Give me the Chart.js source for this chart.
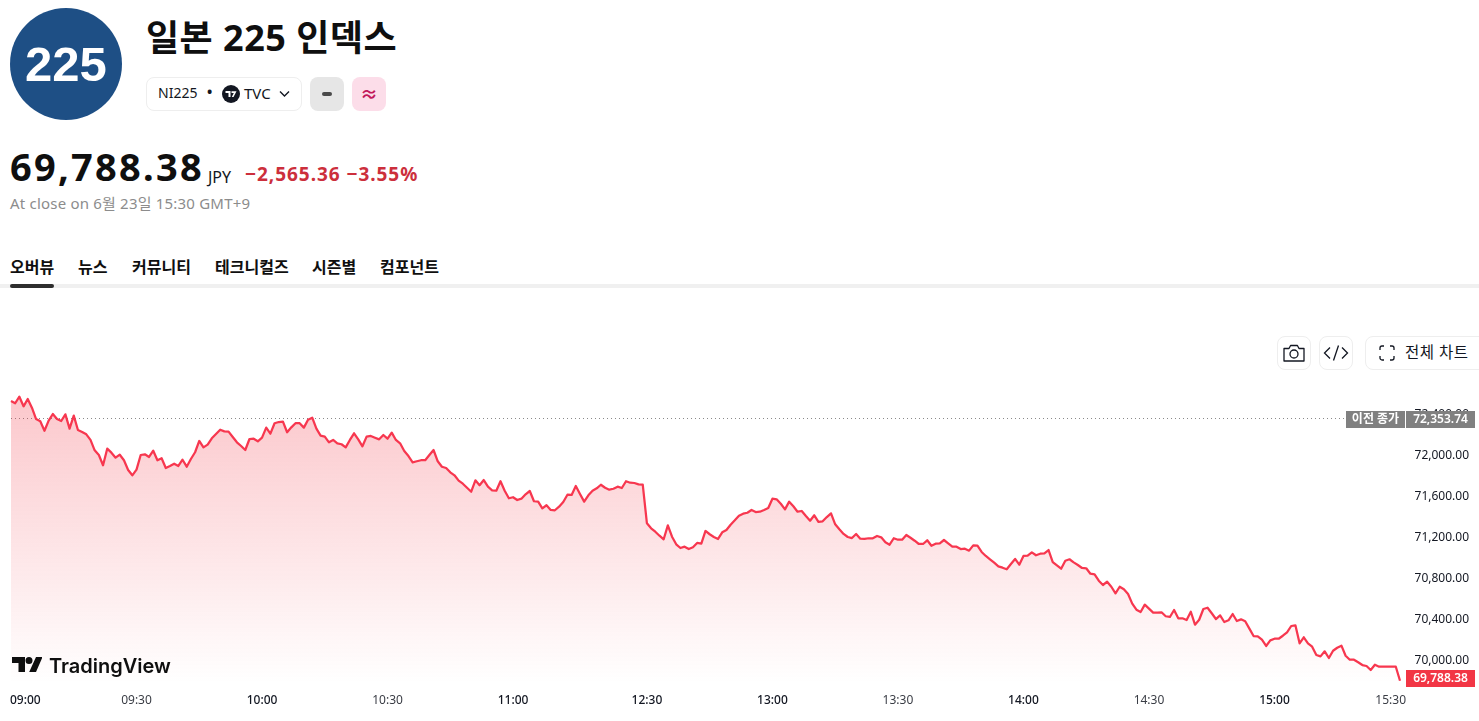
<!DOCTYPE html>
<html lang="ko">
<head>
<meta charset="utf-8">
<title>일본 225 인덱스</title>
<script src="https://cdn.jsdelivr.net/npm/chart.js@4"></script>
<style>
  html, body { margin: 0; padding: 0; background: #fff; }
  body { position: relative; width: 1479px; height: 721px; overflow: hidden; color: #131722;
    font-family: "Noto Sans", "Noto Sans CJK KR", sans-serif; }
  .abs { position: absolute; white-space: nowrap; line-height: 1; }
  .logo { left: 10px; top: 8px; width: 112px; height: 112px; border-radius: 50%; background: #1e4f85;
    color: #fff; font: bold 49px "Liberation Sans", sans-serif; display: flex; align-items: center; justify-content: center; }
  .title { left: 146px; top: 20px; font-size: 36px; font-weight: 700; letter-spacing: .5px; color: #0f0f0f; }
  .chip { left: 146px; top: 77px; width: 154px; height: 32px; border: 1px solid #eeeeee; border-radius: 8px; }
  .sq { top: 77px; width: 34px; height: 34px; border-radius: 8px; text-align: center; line-height: 34px; font-weight: 700; font-size: 18px; }
  .tool { top: 336px; height: 32px; border: 1px solid #eeeeee; border-radius: 8px; display: flex; align-items: center; justify-content: center; background: #fff; }
  .tab { top: 259px; font-size: 16px; font-weight: 700; color: #0f0f0f; }
  canvas { position: absolute; left: 0; top: 385px; }
</style>
</head>
<body>
<div class="abs logo">225</div>
<div class="abs title">일본 225 인덱스</div>
<div class="abs chip"></div>
<div class="abs" style="left:158px;top:86px;font-size:14px">NI225</div>
<div class="abs" style="left:207px;top:85px;font-size:14px;font-weight:700">•</div>
<svg class="abs" style="left:222px;top:85px" width="18" height="18" viewBox="0 0 18 18"><circle cx="9" cy="9" r="9" fill="#131722"/><path d="M3.5 6h5v6h-2V8h-3zM9.5 6.2h5L11.5 12H9.8l2-4h-2.3z" fill="#fff"/></svg>
<div class="abs" style="left:244px;top:86px;font-size:15px">TVC</div>
<svg class="abs" style="left:279px;top:90px" width="11" height="8" viewBox="0 0 11 8"><path d="M1 1.5l4.5 4.5L10 1.5" fill="none" stroke="#131722" stroke-width="1.4"/></svg>
<div class="abs sq" style="left:310px;background:#e6e6e6;color:#444"><span style="display:block;width:10px;height:4px;border-radius:2px;background:#4a4a4a;margin:15px auto 0"></span></div>
<div class="abs sq" style="left:352px;background:#fcdde9;color:#c2185b">≈</div>

<div class="abs" style="left:10px;top:147px;font-size:38px;font-weight:700;letter-spacing:2.25px;color:#0f0f0f">69,788.38</div>
<div class="abs" style="left:208px;top:169px;font-size:16px">JPY</div>
<div class="abs" style="left:245px;top:165px;font-size:19px;font-weight:700;letter-spacing:.95px;color:#cc2f3c">−2,565.36 −3.55%</div>
<div class="abs" style="left:10px;top:196px;font-size:15px;letter-spacing:.2px;color:#8c8c8c">At close on 6월 23일 15:30 GMT+9</div>

<div class="abs tab" style="left:10px">오버뷰</div>
<div class="abs tab" style="left:78px">뉴스</div>
<div class="abs tab" style="left:132px">커뮤니티</div>
<div class="abs tab" style="left:215px">테크니컬즈</div>
<div class="abs tab" style="left:312px">시즌별</div>
<div class="abs tab" style="left:380px">컴포넌트</div>
<div class="abs" style="left:0;top:284px;width:1479px;height:4px;background:#f0f0f0"></div>
<div class="abs" style="left:10px;top:284px;width:44px;height:4px;border-radius:2px;background:#2e2e2e"></div>

<div class="abs tool" style="left:1277px;width:32px">
  <svg width="22" height="18" viewBox="0 0 22 18"><path d="M1 4.5h5l1.6-3h6.8l1.6 3h5v12.5H1z" fill="none" stroke="#131722" stroke-width="1.3" stroke-linejoin="round"/><circle cx="11" cy="10" r="4" fill="none" stroke="#131722" stroke-width="1.3"/></svg>
</div>
<div class="abs tool" style="left:1319px;width:32px">
  <svg width="26" height="18" viewBox="0 0 26 18"><path d="M7 3.5L1.5 9 7 14.5M19 3.5L24.5 9 19 14.5M15.5 1.5l-5 15" fill="none" stroke="#131722" stroke-width="1.3"/></svg>
</div>
<div class="abs tool" style="left:1365px;width:120px;justify-content:flex-start">
  <svg style="margin-left:13px" width="16" height="16" viewBox="0 0 16 16"><path d="M1 5V3a2 2 0 0 1 2-2h2M11 1h2a2 2 0 0 1 2 2v2M15 11v2a2 2 0 0 1-2 2h-2M5 15H3a2 2 0 0 1-2-2v-2" fill="none" stroke="#131722" stroke-width="1.3"/></svg>
  <span style="margin-left:10px;font-size:15.5px;letter-spacing:.5px">전체 차트</span>
</div>

<canvas id="chart" width="1479" height="336"></canvas>

<svg class="abs" style="left:12px;top:657px" width="30" height="15" viewBox="0 0 30 15"><path d="M0 0h13v15H6.5V6H0zM24 0h6.5L24 15h-6.8zM17 0a3.5 3.5 0 1 1 0 7a3.5 3.5 0 0 1 0-7z" fill="#0f0f0f"/></svg>
<div class="abs" style="left:49px;top:654px;font:600 20px Inter, sans-serif;color:#0f0f0f">TradingView</div>

<script>
const prevClose = 72353.74;
const lastClose = 69788.38;

/* one value per traded minute, 09:00 - 11:31 then 12:30 - 15:30 */
const morningStart = 9 * 60;
const afternoonStart = 12 * 60 + 30;

const closeMorning = [
  72517, 72495, 72559, 72465, 72537, 72452, 72341, 72319, 72227, 72325, 72390, 72341, 72322, 72387, 72247, 72374,
  72234, 72215, 72192, 72137, 72036, 71990, 71890, 72052, 72013, 71964, 71993, 71939, 71844, 71792, 71847, 71990,
  71997, 71971, 72032, 71939, 71958, 71863, 71883, 71905, 71883, 71944, 71876, 71951, 72017, 72127, 72065, 72091,
  72153, 72195, 72237, 72221, 72218, 72166, 72114, 72078, 72039, 72146, 72149, 72124, 72159, 72257, 72198, 72300,
  72312, 72315, 72212, 72260, 72300, 72300, 72257, 72335, 72354, 72247, 72179, 72169, 72114, 72137, 72104, 72095,
  72065, 72137, 72202, 72143, 72075, 72169, 72176, 72159, 72143, 72185, 72149, 72208, 72137, 72104, 72029, 71980,
  71919, 71929, 71939, 71939, 71990, 72039, 71929, 71876, 71863, 71821, 71792, 71740, 71710, 71671, 71632, 71743,
  71695, 71746, 71681, 71646, 71642, 71734, 71642, 71568, 71578, 71551, 71564, 71607, 71639, 71539, 71535, 71470,
  71500, 71454, 71451, 71486, 71532, 71603, 71600, 71688, 71610, 71535, 71597, 71642, 71665, 71700, 71671, 71652,
  71661, 71681, 71668, 71734, 71720, 71717, 71704, 71700
];
const closeAfternoon = [
  71324, 71275, 71242, 71203, 71168, 71304, 71193, 71119, 71083, 71096, 71073, 71090, 71132, 71125, 71249, 71217,
  71190, 71171, 71236, 71259, 71310, 71353, 71398, 71418, 71427, 71454, 71434, 71437, 71454, 71473, 71564, 71558,
  71515, 71460, 71535, 71490, 71437, 71444, 71395, 71349, 71402, 71337, 71343, 71385, 71421, 71314, 71265, 71220,
  71190, 71180, 71220, 71174, 71171, 71178, 71178, 71200, 71187, 71139, 71115, 71178, 71164, 71164, 71210, 71183,
  71154, 71122, 71122, 71158, 71105, 71125, 71129, 71161, 71129, 71096, 71096, 71073, 71076, 71057, 71109, 71105,
  71044, 71005, 70973, 70940, 70904, 70891, 70875, 70927, 70976, 70920, 71005, 71008, 71041, 71012, 71027, 71031,
  71063, 70946, 70914, 70881, 70959, 70973, 70943, 70917, 70888, 70885, 70832, 70826, 70764, 70722, 70754, 70705,
  70641, 70705, 70680, 70634, 70540, 70481, 70459, 70530, 70491, 70452, 70452, 70456, 70417, 70410, 70478, 70397,
  70397, 70380, 70461, 70335, 70383, 70488, 70500, 70446, 70390, 70426, 70361, 70378, 70439, 70371, 70387, 70368,
  70296, 70224, 70221, 70188, 70127, 70182, 70198, 70198, 70227, 70260, 70322, 70329, 70153, 70212, 70153, 70120,
  70039, 70026, 70075, 70010, 70081, 70110, 70130, 70032, 69993, 69993, 69968, 69941, 69932, 69893, 69944, 69925,
  69925, 69925, 69925, 69925, 69788
];

const timeTicks = ["09:00", "09:30", "10:00", "10:30", "11:00", "12:30", "13:00", "13:30", "14:00", "14:30", "15:00", "15:30"];
const boldTicks = ["09:00", "10:00", "11:00", "12:30", "13:00", "14:00", "15:00"];
const priceTicks = [70000, 70400, 70800, 71200, 71600, 72000, 72400];

const hhmm = (m) => String(Math.floor(m / 60)).padStart(2, "0") + ":" + String(m % 60).padStart(2, "0");
const categories = [
  ...closeMorning.map((_, i) => hhmm(morningStart + i)),
  ...closeAfternoon.map((_, i) => hhmm(afternoonStart + i)),
];
const closes = [...closeMorning, ...closeAfternoon];

const money = (v) => v.toLocaleString("en-US", { minimumFractionDigits: 2, maximumFractionDigits: 2 });
const uiFont = '"Noto Sans", "Noto Sans CJK KR", sans-serif';

const sessionDecor = {
  id: "sessionDecor",
  beforeDatasetsDraw(chart) {
    const { ctx, scales: { y }, chartArea: { left } } = chart;
    const py = y.getPixelForValue(prevClose);
    ctx.save();
    ctx.strokeStyle = "#8a8a8a";
    ctx.lineWidth = 1;
    ctx.setLineDash([1, 3]);
    ctx.beginPath();
    ctx.moveTo(left, Math.round(py) + 0.5);
    ctx.lineTo(1346, Math.round(py) + 0.5);
    ctx.stroke();
    ctx.restore();
  },
  afterDraw(chart) {
    const { ctx, scales: { x, y } } = chart;
    ctx.save();

    // time labels, first and last are pulled inside the plot
    ctx.textBaseline = "middle";
    timeTicks.forEach((t) => {
      let px = x.getPixelForValue(categories.indexOf(t));
      ctx.font = (boldTicks.includes(t) ? "500" : "400") + " 12px " + uiFont;
      ctx.fillStyle = boldTicks.includes(t) ? "#131722" : "#3a3d45";
      ctx.textAlign = "center";
      if (t === "09:00") { ctx.textAlign = "left"; px = 10; }
      if (t === "15:30") { ctx.textAlign = "right"; px = 1406; }
      ctx.fillText(t, px, 316);
    });

    // price tags, shift keeps the last one clear of the time axis
    const tag = (bx, bw, value, text, bg, shift) => {
      const py = Math.round(y.getPixelForValue(value)) + shift;
      ctx.fillStyle = bg;
      ctx.fillRect(bx, py - 7, bw, 17);
      ctx.fillStyle = "#fff";
      ctx.font = "600 12px " + uiFont;
      ctx.textAlign = "center";
      ctx.fillText(text, bx + bw / 2, py + 2);
    };
    tag(1346, 59, prevClose, "이전 종가", "#808080", 0);
    tag(1406, 69, prevClose, money(prevClose), "#808080", 0);
    tag(1406, 69, lastClose, money(lastClose), "#f23645", -4);
    ctx.restore();
  },
};

const ctx = document.getElementById("chart").getContext("2d");
const fill = ctx.createLinearGradient(0, 10, 0, 298);
fill.addColorStop(0, "rgba(242,54,69,0.28)");
fill.addColorStop(1, "rgba(242,54,69,0)");

new Chart(ctx, {
  type: "line",
  data: {
    labels: categories,
    datasets: [{
      data: closes,
      borderColor: "#f7374f",
      borderWidth: 2.25,
      backgroundColor: fill,
      fill: "start",
      pointRadius: 0,
      tension: 0,
      borderJoinStyle: "round",
    }],
  },
  options: {
    responsive: false,
    animation: false,
    devicePixelRatio: 1,
    layout: { padding: { left: 11, right: 10, top: 0, bottom: 38 } },
    plugins: { legend: { display: false }, tooltip: { enabled: false } },
    scales: {
      x: {
        type: "category",
        display: false,
        offset: false,
      },
      y: {
        position: "right",
        min: 69766,
        max: 72673,
        border: { display: false },
        grid: { display: false, drawTicks: false },
        afterBuildTicks(axis) {
          axis.ticks = priceTicks.map((value) => ({ value }));
        },
        afterFit(axis) {
          axis.width = 69;
          axis.paddingTop = 0;
          axis.paddingBottom = 0;
        },
        ticks: {
          autoSkip: false,
          crossAlign: "far",
          padding: 0,
          labelOffset: 2,
          color: "#131722",
          font: { size: 12, family: uiFont },
          callback: (v) => money(v),
        },
      },
    },
  },
  plugins: [sessionDecor],
});
</script>
</body>
</html>
